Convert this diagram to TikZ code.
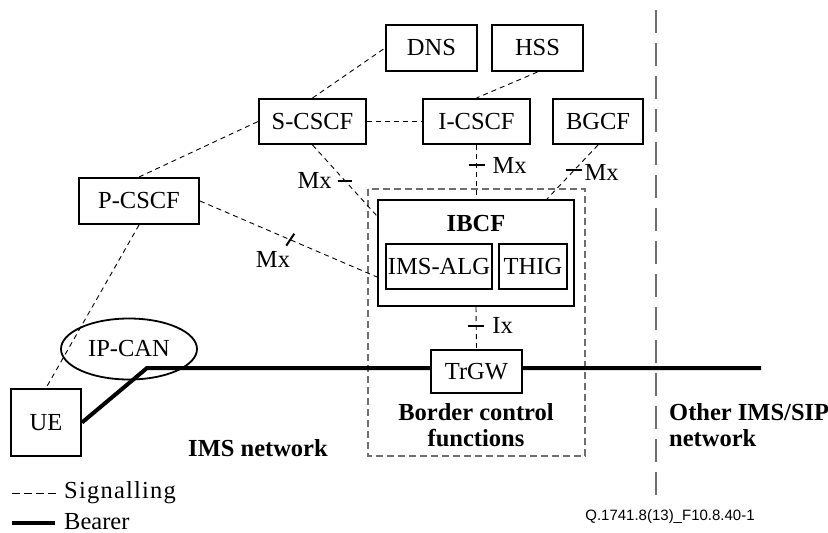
\documentclass[tikz,border=0pt]{standalone}
\usepackage{fontspec}
\setmainfont{Liberation Serif}
\newfontfamily\footfont{Liberation Sans}
\usetikzlibrary{calc,shapes.geometric}
\definecolor{sepgray}{RGB}{110,110,110}
\begin{document}
\begin{tikzpicture}[x=1pt,y=-1pt,
  every node/.style={font=\fontsize{24.5}{26}\selectfont},
  box/.style={draw, line width=2pt, inner sep=0pt, fill=white},
  sig/.style={line width=0.9pt, dash pattern=on 5pt off 4pt},
  ticky/.style={line width=2pt},
  bearer/.style={line width=4pt},
  sepline/.style={draw=sepgray, line width=1.6pt, dash pattern=on 23pt off 10pt},
  bcbox/.style={draw=sepgray, line width=1.2pt, dash pattern=on 7pt off 4pt},
  lbl/.style={inner sep=0pt},
  bold/.style={font=\fontsize{24.5}{26}\selectfont\bfseries, inner sep=0pt}
]
\useasboundingbox (0,0) rectangle (828,533);

% border control functions box
\draw[bcbox] (368,189) rectangle (585,456);

% separator
\coordinate (septop) at (656,10);
\coordinate (sepbot) at (656,495);
\draw[sepline] (septop) -- (sepbot);

% nodes
\node[box, minimum width=91pt, minimum height=46pt] (dns) at (431.5,48) {DNS};
\node[box, minimum width=91pt, minimum height=46pt] (hss) at (537.5,48) {HSS};
\node[box, minimum width=107pt, minimum height=45pt] (scscf) at (312.5,121.5) {S-CSCF};
\node[box, minimum width=107pt, minimum height=45pt] (icscf) at (476.5,121.5) {I-CSCF};
\node[box, minimum width=90pt, minimum height=45pt] (bgcf) at (598,121.5) {BGCF};
\node[box, minimum width=120pt, minimum height=46pt] (pcscf) at (139,201) {P-CSCF};
\node[box, minimum width=196pt, minimum height=106pt] (ibcf) at (476,253) {};
\node[bold] (ibcftxt) at (476,224) {IBCF};
\node[box, minimum width=106pt, minimum height=45pt] (alg) at (439,266.5) {IMS-ALG};
\node[box, minimum width=68pt, minimum height=45pt] (thig) at (533,266.5) {THIG};
\node[box, minimum width=70pt, minimum height=67pt] (ue) at (46,422.5) {UE};
\node[draw, line width=1.8pt, ellipse, inner sep=0pt, minimum width=136pt, minimum height=61pt] (ipcan) at (129,349) {IP-CAN};

% bearer
\coordinate (bend) at (147,368);
\coordinate (bearend) at (761,368);
\draw[bearer] (ue.east) -- (bend) -- (bearend);
\node[box, minimum width=91pt, minimum height=43pt] (trgw) at (476.5,371.5) {TrGW};

% signalling connectors
\draw[sig] (scscf.north) -- (dns.west);
\draw[sig] (hss.south) -- (icscf.north);
\draw[sig] (scscf.east) -- (icscf.west);
\draw[sig] (pcscf.north) -- (scscf.west);
\draw[sig] (pcscf.south) -- (ue.north);

\draw[sig] (scscf.south) -- ([yshift=-17pt]ibcf.north west) coordinate[pos=0.5] (t1);
\draw[ticky] ([xshift=-7pt]t1) -- ([xshift=7pt]t1);
\node[lbl, anchor=east] (m1) at ([xshift=-13pt]t1) {Mx};

\draw[sig] (pcscf.east) -- ([yshift=-24pt]ibcf.west) coordinate[pos=0.51] (t2);
\draw[ticky] ($(t2)+(-4,6)$) -- ($(t2)+(4,-6)$);
\node[lbl] (m2) at (273,259) {Mx};

\draw[sig] (icscf.south) -- (icscf.south |- ibcf.north) coordinate[pos=0.375] (t3);
\draw[ticky] ([xshift=-8pt]t3) -- ([xshift=8pt]t3);
\node[lbl, anchor=west] (m3) at ([xshift=16pt]t3) {Mx};

\draw[sig] (bgcf.south) -- ([xshift=-28pt]ibcf.north east) coordinate[pos=0.464] (t4);
\draw[ticky] ([xshift=-8pt]t4) -- ([xshift=8pt]t4);
\node[lbl, anchor=west] (m4) at ([xshift=10pt,yshift=-2pt]t4) {Mx};

\draw[sig] (ibcf.south) -- (trgw.north) coordinate[pos=0.45] (t5);
\draw[ticky] ([xshift=-8pt]t5) -- ([xshift=8pt]t5);
\node[lbl, anchor=west] (ix) at ([xshift=16pt]t5) {Ix};

% region labels
\node[bold] (imsnet) at (258,448) {IMS network};
\node[bold, align=center] (bcf) at (476,425) {Border control\\functions};
\node[bold, align=left, anchor=west] (other) at (669,425) {Other IMS/SIP\\network};

% legend
\coordinate (l1a) at (12,493);
\coordinate (l1b) at (58,493);
\draw[line width=0.9pt, dash pattern=on 8pt off 4pt] (l1a) -- (l1b);
\node[lbl, anchor=base west] (sigtxt) at (64,498) {\addfontfeature{LetterSpace=5}Signalling};
\coordinate (l2a) at (12,523);
\coordinate (l2b) at (55,523);
\draw[bearer] (l2a) -- (l2b);
\node[lbl, anchor=base west] (beartxt) at (64,529) {Bearer};

% footer
\node[lbl, font=\footfont\fontsize{15}{16}\selectfont] (foot) at (670,517) {Q.1741.8(13)\_F10.8.40-1};
\end{tikzpicture}
\end{document}
